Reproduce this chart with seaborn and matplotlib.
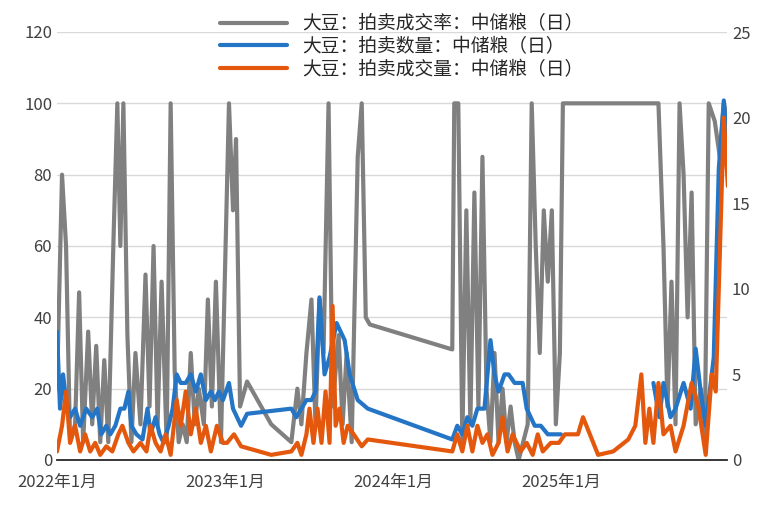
import matplotlib
matplotlib.use("Agg")
import matplotlib.pyplot as plt
import matplotlib.dates as mdates
import seaborn as sns
import pandas as pd
import numpy as np

sns.set_theme(style="white")
plt.rcParams['font.family'] = ['Noto Sans CJK SC', 'DejaVu Sans']

# time positions (1 unit = 1/167 year) since 2022-01-01
rate_t = [0,5,9,13,18,22,26,31,35,39,43,47,51,56,60,63,66,70,74,78,83,88,92,96,100,104,109,113,117,121,125,129,133,137,141,146,150,154,158,163,171,175,178,182,189,213,233,239,243,248,253,257,261,265,270,274,280,284,288,293,299,303,307,311,393,395,399,403,407,411,415,419,423,427,431,435,439,443,447,451,455,459,468,472,476,480,484,488,492,496,500,503,598,603,607,611,615,619,623,627,631,635,640,644,648,654,659,663,667]
rate_v = [20,80,60,5,10,47,5,36,10,32,5,28,5,60,100,60,100,35,5,30,10,52,15,60,10,50,5,100,25,5,10,5,30,10,20,10,45,15,50,5,100,70,90,15,22,10,5,20,10,30,45,10,45,30,100,15,35,10,30,5,85,100,40,38,31,100,100,5,70,10,75,15,85,20,5,30,5,20,5,15,5,0,10,100,60,30,70,50,70,10,30,100,100,60,15,50,10,100,80,40,75,10,20,5,100,95,85,100,95]

qty_t = [0,3,6,9,13,18,23,29,35,40,44,49,53,58,63,67,71,74,79,85,90,93,98,102,106,111,115,119,123,128,133,138,143,148,153,157,161,165,171,175,183,189,233,238,243,248,253,257,261,266,271,278,286,291,299,309,393,398,403,408,413,418,425,431,435,439,445,449,455,463,467,475,481,488,495,501]
qty_v = [7.5,3,5,3.5,2.5,3,2,3,2.5,3,1.5,2,1.5,2,3,3,4,2,1.5,1.2,3,1.5,2.5,1.5,1,2,3,5,4.5,4.5,5,4,5,3.5,4,3.5,4,3.5,4.5,3,2,2.7,3,2.5,3,3.5,3.5,4,9.5,5,6,8,7,5,3.5,3,1.2,2,1.5,2.5,2,3,3,7,5,4,5,5,4.5,4.5,3,2,2,1.5,1.5,1.5]
qty2_t = [593,599,603,610,615,623,630,635,640,645,649,653,658,663,667]
qty2_v = [4.5,2.5,4.5,2.5,3,4.5,3,6.5,4,2,4,6,17,21,18]

deal_t = [0,5,9,13,18,23,28,33,38,43,49,55,61,65,71,76,83,89,93,98,103,108,113,119,123,128,133,138,143,148,153,159,165,169,176,183,213,233,239,243,248,251,255,259,263,267,271,274,277,281,285,289,295,303,309,393,398,403,408,413,418,423,428,433,439,443,448,453,461,467,473,478,483,491,499,505,518,523,538,553,568,575,581,585,589,593,598,603,610,615,623,631,638,645,651,655,659,663,667]
deal_v = [0.5,2,4,1,2,0.5,1.5,0.5,1,0.3,0.8,0.5,1.5,2,1,0.5,1,0.5,2,1,0.5,1.5,0.3,3.5,2,4,1.5,3,1,2,0.5,2,1,1,1.5,0.8,0.3,0.5,1,0.3,1.5,3,1,3,1,4,1,9,2,3,1,2,1.5,0.8,1.2,0.5,1.5,0.5,2,0.5,2,1,1.5,0.3,1,2.5,0.5,1.5,0.5,1,0.3,1.5,0.5,1,1,1.5,1.5,2.5,0.3,0.5,1.2,2,5,1,3,1,4.5,1.5,2,0.5,2,4.5,3,0.3,5,4,12,20,16]

start = pd.Timestamp("2022-01-01")
def to_dates(t):
    return [start + pd.Timedelta(days=x * 365.25 / 167) for x in t]

gray, blue, orange = "#808080", "#2475c5", "#e4580e"

fig = plt.figure(figsize=(7.72, 5.09), dpi=100)
ax = fig.add_axes([57/772, 49/509, 670/772, 428/509])
ax2 = ax.twinx()

sns.lineplot(x=to_dates(rate_t), y=rate_v, ax=ax, color=gray, lw=3, label="大豆：拍卖成交率：中储粮（日）", legend=False)
sns.lineplot(x=to_dates(qty_t), y=qty_v, ax=ax2, color=blue, lw=3, label="大豆：拍卖数量：中储粮（日）", legend=False)
sns.lineplot(x=to_dates(qty2_t), y=qty2_v, ax=ax2, color=blue, lw=3, legend=False)
sns.lineplot(x=to_dates(deal_t), y=deal_v, ax=ax2, color=orange, lw=3, label="大豆：拍卖成交量：中储粮（日）", legend=False)

ax.set_ylim(0, 120); ax.set_yticks(range(0, 121, 20))
ax2.set_ylim(0, 25); ax2.set_yticks(range(0, 26, 5))
ax.set_xlim(start, pd.Timestamp("2025-12-28"))
ax.xaxis.set_major_locator(mdates.YearLocator(month=1))
ax.xaxis.set_major_formatter(mdates.DateFormatter("%Y年%-m月"))
ax.yaxis.grid(True, color="#d9d9d9", lw=1)
for a in (ax, ax2):
    for s in ("top", "right", "left"):
        a.spines[s].set_visible(False)
    a.tick_params(labelsize=12, colors="#404040")
ax.spines["bottom"].set_color("#bfbfbf")
ax.tick_params(axis="x", length=4, color="#bfbfbf", pad=6)
ax.tick_params(axis="y", length=0)
ax2.tick_params(axis="y", length=0)

h1, l1 = ax.get_legend_handles_labels()
h2, l2 = ax2.get_legend_handles_labels()
fig.legend(h1 + h2, l1 + l2, loc="upper center", bbox_to_anchor=(0.52, 1.0), ncol=1,
           frameon=False, fontsize=13.5, handlelength=3.6, labelspacing=0.1, borderpad=0.2)
fig.savefig("out.png", dpi=100)
